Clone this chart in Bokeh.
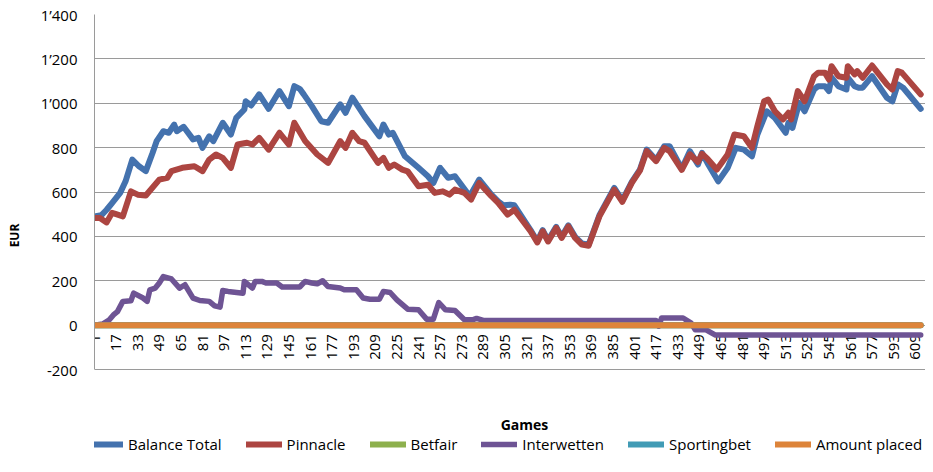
from math import pi
from bokeh.plotting import figure
from bokeh.models import Range1d, FixedTicker, Legend, LegendItem, Label
from bokeh.core.properties import value
from bokeh.embed import file_html
from bokeh.resources import INLINE

FONT = "Open Sans"

series_names = ["Balance Total", "Pinnacle", "Betfair", "Interwetten", "Sportingbet", "Amount placed"]
series_colors = ["#4472AE", "#AC4541", "#8DB04D", "#6E5494", "#419BB5", "#DD843A"]

balance_games = [1, 6, 10, 14, 20, 24, 29, 34, 39, 44, 47, 52, 56, 60, 62, 67, 74, 78, 81, 86,
                 89, 96, 102, 106, 112, 113, 117, 123, 130, 138, 145, 149, 153, 156, 162, 169, 174, 183, 187, 192,
                 201, 212, 215, 219, 222, 231, 241, 248, 252, 257, 263, 268, 279, 286, 295, 300, 304, 309, 312, 324,
                 329, 333, 337, 343, 347, 352, 357, 362, 367, 375, 386, 392, 399, 405, 410, 417, 423, 427, 436, 442,
                 448, 451, 455, 463, 470, 476, 482, 488, 492, 499, 505, 513, 515, 518, 523, 527, 534, 537, 542, 545,
                 547, 552, 558, 559, 564, 567, 570, 577, 588, 592, 596, 600, 613]
balance_values = [490, 495, 520, 550, 596, 648, 746, 716, 694, 776, 829, 874, 867, 904, 874, 894, 837, 844, 799, 851,
                  829, 912, 859, 934, 972, 1009, 990, 1040, 975, 1055, 987, 1077, 1065, 1040, 987, 919, 912, 995, 957, 1025,
                  942, 851, 904, 859, 867, 761, 709, 671, 641, 709, 664, 671, 581, 656, 588, 558, 540, 543, 540, 428,
                  378, 428, 382, 443, 398, 450, 398, 368, 362, 495, 618, 562, 646, 701, 791, 744, 806, 806, 705, 784,
                  724, 776, 731, 648, 709, 799, 791, 761, 859, 964, 934, 867, 912, 889, 1002, 964, 1062, 1077, 1077, 1055,
                  1115, 1077, 1062, 1115, 1077, 1070, 1070, 1122, 1025, 1009, 1085, 1070, 975]

pinnacle_games = [1, 5, 10, 14, 17, 22, 28, 33, 39, 49, 55, 58, 66, 75, 81, 86, 91, 96, 102, 107,
                  114, 118, 123, 130, 138, 145, 149, 157, 166, 174, 183, 187, 192, 197, 201, 211, 215, 219, 223, 229,
                  233, 241, 248, 253, 259, 264, 268, 275, 280, 286, 295, 300, 307, 312, 324, 329, 333, 337, 343, 347,
                  352, 357, 362, 367, 375, 386, 392, 399, 405, 410, 417, 423, 427, 436, 442, 448, 451, 455, 462, 470,
                  475, 482, 488, 492, 497, 500, 505, 511, 515, 517, 522, 527, 534, 537, 542, 545, 547, 552, 558, 559,
                  564, 566, 570, 577, 588, 592, 596, 599, 613]
pinnacle_values = [483, 483, 463, 506, 500, 490, 603, 588, 584, 656, 664, 694, 709, 716, 694, 746, 769, 754, 709, 814,
                   822, 814, 844, 791, 867, 814, 912, 830, 769, 731, 829, 799, 867, 829, 822, 731, 754, 709, 724, 701,
                   693, 626, 633, 596, 603, 588, 611, 596, 566, 641, 581, 551, 498, 520, 423, 373, 423, 377, 438, 393,
                   445, 393, 363, 358, 490, 611, 556, 641, 696, 784, 739, 799, 784, 700, 770, 735, 772, 750, 701, 769,
                   859, 851, 799, 897, 1009, 1017, 964, 927, 957, 927, 1055, 1009, 1122, 1138, 1138, 1107, 1167, 1122, 1115, 1167,
                   1130, 1145, 1115, 1170, 1085, 1062, 1145, 1138, 1040]

betfair_games = [1, 613]
betfair_values = [0, 0]

interwetten_games = [1, 7, 12, 15, 18, 22, 28, 30, 37, 40, 42, 46, 49, 52, 58, 64, 68, 74, 79, 86,
                     90, 94, 96, 100, 111, 112, 118, 120, 125, 128, 136, 140, 153, 157, 162, 166, 170, 174, 183, 186,
                     195, 200, 205, 212, 215, 220, 225, 233, 241, 247, 252, 256, 261, 268, 275, 281, 284, 289, 417, 419,
                     421, 437, 443, 446, 454, 461, 613]
interwetten_values = [0, 5, 24, 46, 61, 107, 110, 144, 122, 107, 159, 167, 190, 219, 208, 167, 182, 122, 111, 107,
                      87, 81, 156, 152, 144, 197, 167, 197, 197, 190, 190, 172, 172, 197, 190, 186, 200, 174, 167, 159,
                      159, 122, 117, 117, 152, 147, 114, 72, 69, 27, 27, 102, 69, 66, 24, 24, 30, 21, 21, -5,
                      32, 32, 9, -21, -21, -45, -45]

sportingbet_games = [1, 613]
sportingbet_values = [0, 0]

amount_games = [1, 613]
amount_values = [0, 0]

x_ticks = [1, 17, 33, 49, 65, 81, 97, 113, 129, 145, 161, 177, 193, 209, 225, 241, 257, 273, 289, 305,
           321, 337, 353, 369, 385, 401, 417, 433, 449, 465, 481, 497, 513, 529, 545, 561, 577, 593, 609]
x_tick_labels = [str(t) for t in x_ticks]
y_ticks = [-200, 0, 200, 400, 600, 800, 1000, 1200, 1400]
y_tick_labels = ["-200", "0", "200", "400", "600", "800", "1\u2019000", "1\u2019200", "1\u2019400"]

# layout (pixels)
W, H = 925, 456
TOP, LEFT = 14, 94
AXIS_SPAN_PX = 355          # pixels from 1400 down to -200
X_PX_PER_GAME = 1.35
frame_h = H - TOP
y_top = 1400
y_bottom_axis = -200
y_min = y_top - frame_h * (y_top - y_bottom_axis) / AXIS_SPAN_PX
x_max = 1 + (W - LEFT) / X_PX_PER_GAME

p = figure(width=W, height=H, x_range=Range1d(1, x_max), y_range=Range1d(y_min, y_top),
           output_backend="svg", toolbar_location=None,
           min_border_left=LEFT, min_border_right=0, min_border_top=TOP, min_border_bottom=0)
p.outline_line_color = None
p.background_fill_color = "white"
p.border_fill_color = "white"

p.xaxis.visible = False
p.xgrid.visible = False

p.yaxis.ticker = FixedTicker(ticks=y_ticks)
p.yaxis.bounds = (y_bottom_axis, y_top)
p.yaxis.major_label_overrides = dict(zip(y_ticks, y_tick_labels))
p.yaxis.major_tick_out = 0
p.yaxis.major_tick_in = 0
p.yaxis.minor_tick_out = 0
p.yaxis.minor_tick_in = 0
p.yaxis.major_label_standoff = 17
p.yaxis.axis_line_color = "#9a9a9a"
p.yaxis.major_label_text_font = FONT
p.yaxis.major_label_text_font_size = "15px"
p.yaxis.major_label_text_color = "black"
p.yaxis.axis_label = "EUR"
p.yaxis.axis_label_standoff = 15
p.yaxis.axis_label_text_font = FONT
p.yaxis.axis_label_text_font_size = "12px"
p.yaxis.axis_label_text_font_style = "bold"
p.yaxis.axis_label_text_color = "black"
p.ygrid.grid_line_color = "#9a9a9a"
p.ygrid.grid_line_width = 1.2

# category labels hanging from the zero line
p.text(x=x_ticks, y=[0] * len(x_ticks), text=x_tick_labels, angle=pi / 2, y_offset=9,
       text_align="right", text_baseline="middle", text_font=value(FONT),
       text_font_size="15px", text_color="black")

all_games = [balance_games, pinnacle_games, betfair_games, interwetten_games, sportingbet_games, amount_games]
all_values = [balance_values, pinnacle_values, betfair_values, interwetten_values, sportingbet_values, amount_values]
widths = [6, 6, 6, 5.5, 6, 6]

items = []
for name, color, g, v, w in zip(series_names, series_colors, all_games, all_values, widths):
    r = p.line(g, v, line_color=color, line_width=w, line_join="round", line_cap="round")
    items.append(LegendItem(label=name, renderers=[r]))

games_label = Label(x=430, y=32, x_units="screen", y_units="screen", text="Games",
                    text_align="center", text_baseline="middle", text_font=FONT,
                    text_font_size="14px", text_font_style="bold", text_color="black")
p.add_layout(games_label)

legend = Legend(items=items, orientation="horizontal", location=(-7, 2),
                border_line_color=None, background_fill_alpha=0,
                margin=0, padding=5, spacing=24, glyph_width=36, glyph_height=20,
                label_standoff=5, label_text_font=FONT, label_text_font_size="15px",
                label_text_color="black")
p.add_layout(legend)

open("out.html", "w").write(file_html(p, INLINE))
